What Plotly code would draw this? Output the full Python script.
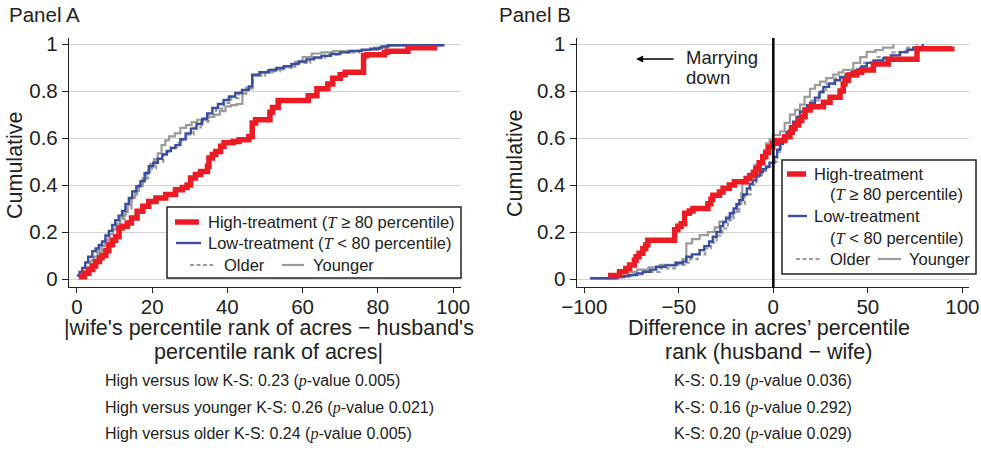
import plotly.graph_objects as go

# ---------------- data: empirical CDFs (step breakpoints) ----------------
# Panel A: |wife's rank - husband's rank|
hi_a_x = [0.5, 2.0, 3.2, 4.2, 5.0, 6.0, 6.7, 7.7, 8.5, 9.5,
          10.3, 11.2, 12.0, 13.4, 14.5, 16.0, 17.5, 19.1, 21.0, 23.6,
          26.2, 28.0, 29.3, 30.2, 31.5, 32.9, 34.7, 35.1, 36.0, 36.9,
          38.2, 39.1, 41.5, 43.1, 45.7, 46.6, 47.5, 51.3, 52.0, 53.5,
          61.5, 63.8, 66.7, 68.0, 70.0, 71.3, 76.2, 77.0, 81.7, 82.5,
          88.0, 95.8]
hi_a_y = [0.010, 0.025, 0.040, 0.055, 0.075, 0.090, 0.100, 0.120, 0.146, 0.165,
          0.180, 0.217, 0.225, 0.238, 0.260, 0.288, 0.310, 0.330, 0.345, 0.360,
          0.380, 0.390, 0.400, 0.430, 0.445, 0.458, 0.480, 0.515, 0.530, 0.543,
          0.565, 0.580, 0.585, 0.593, 0.607, 0.664, 0.678, 0.710, 0.730, 0.760,
          0.780, 0.810, 0.830, 0.855, 0.870, 0.880, 0.950, 0.955, 0.965, 0.970,
          0.985, 0.985]

lo_a_x = [0.0, 0.7, 1.4, 2.2, 3.0, 4.1, 5.0, 5.8, 6.7, 7.6,
          8.5, 9.4, 10.2, 11.1, 12.0, 12.9, 13.8, 14.7, 15.8, 16.9,
          18.0, 19.1, 20.3, 21.5, 22.7, 23.9, 25.0, 26.2, 27.5, 28.9,
          30.3, 31.8, 33.3, 34.6, 36.0, 37.5, 39.0, 40.4, 42.1, 43.9,
          45.7, 46.6, 48.5, 51.0, 53.0, 55.0, 57.0, 58.9, 61.0, 63.0,
          65.0, 67.5, 70.0, 72.5, 75.7, 78.0, 80.5, 81.0, 82.8, 97.4]
lo_a_y = [0.015, 0.030, 0.047, 0.070, 0.095, 0.118, 0.130, 0.145, 0.160, 0.185,
          0.205, 0.230, 0.250, 0.270, 0.290, 0.320, 0.345, 0.373, 0.395, 0.416,
          0.450, 0.480, 0.495, 0.512, 0.530, 0.545, 0.558, 0.570, 0.595, 0.620,
          0.640, 0.660, 0.680, 0.705, 0.728, 0.745, 0.762, 0.777, 0.792, 0.805,
          0.820, 0.870, 0.880, 0.890, 0.898, 0.906, 0.915, 0.926, 0.935, 0.943,
          0.950, 0.958, 0.965, 0.970, 0.976, 0.980, 0.985, 0.990, 0.995, 1.000]

yo_a_x = [0.5, 1.5, 2.5, 3.5, 4.5, 5.5, 6.5, 7.5, 8.5, 9.5,
          10.5, 11.5, 12.5, 13.5, 14.5, 15.5, 16.5, 17.5, 18.5, 19.5,
          20.5, 21.5, 22.5, 23.5, 24.5, 26.0, 27.5, 29.0, 30.5, 32.0,
          33.5, 35.0, 36.5, 38.0, 39.5, 41.0, 42.5, 44.0, 45.0, 46.6,
          49.0, 52.0, 55.0, 58.0, 60.0, 62.4, 65.0, 68.0, 72.0, 76.0,
          80.0, 82.3, 97.0]
yo_a_y = [0.010, 0.030, 0.050, 0.075, 0.095, 0.120, 0.140, 0.165, 0.190, 0.210,
          0.235, 0.260, 0.285, 0.315, 0.345, 0.375, 0.400, 0.425, 0.455, 0.490,
          0.510, 0.535, 0.570, 0.590, 0.607, 0.620, 0.643, 0.655, 0.668, 0.678,
          0.685, 0.690, 0.700, 0.715, 0.735, 0.740, 0.745, 0.790, 0.810, 0.865,
          0.880, 0.892, 0.905, 0.925, 0.945, 0.960, 0.965, 0.970, 0.972, 0.975,
          0.985, 0.995, 1.000]

ol_a_x = [1.0, 2.5, 4.0, 5.5, 7.0, 8.5, 10.0, 11.5, 13.0, 14.5,
          16.0, 17.5, 19.0, 21.0, 23.0, 25.0, 27.0, 29.0, 31.0, 33.0,
          35.0, 37.0, 39.0, 41.0, 43.0, 45.0, 46.8, 50.0, 54.0, 58.0,
          62.0, 66.0, 70.0, 75.0, 79.0, 82.5, 96.5]
ol_a_y = [0.015, 0.045, 0.080, 0.110, 0.140, 0.180, 0.215, 0.255, 0.300, 0.350,
          0.395, 0.430, 0.470, 0.500, 0.540, 0.560, 0.590, 0.615, 0.645, 0.670,
          0.700, 0.725, 0.750, 0.770, 0.790, 0.815, 0.865, 0.885, 0.900, 0.920,
          0.940, 0.955, 0.965, 0.975, 0.985, 0.995, 1.000]

# Panel B: husband's rank - wife's rank
hi_b_x = [-87.5, -81.3, -78.0, -76.0, -73.5, -72.6, -71.0, -69.0, -67.5, -66.4,
          -52.2, -50.5, -48.8, -46.9, -44.5, -42.5, -34.6, -33.0, -32.0, -28.5,
          -26.6, -23.3, -20.6, -14.4, -12.5, -10.5, -9.2, -7.5, -5.6, -4.0,
          -2.5, -0.3, 1.8, 6.0, 8.8, 10.0, 11.5, 13.5, 15.0, 16.8,
          19.4, 26.5, 30.0, 35.3, 37.0, 37.9, 39.7, 44.1, 46.7, 52.9,
          60.8, 76.0, 94.4]
hi_b_y = [0.015, 0.031, 0.045, 0.060, 0.080, 0.095, 0.110, 0.130, 0.145, 0.165,
          0.210, 0.225, 0.235, 0.280, 0.290, 0.300, 0.320, 0.340, 0.357, 0.370,
          0.386, 0.400, 0.414, 0.428, 0.440, 0.455, 0.470, 0.495, 0.520, 0.540,
          0.562, 0.578, 0.590, 0.606, 0.625, 0.640, 0.656, 0.675, 0.691, 0.720,
          0.733, 0.753, 0.774, 0.800, 0.830, 0.845, 0.868, 0.880, 0.890, 0.915,
          0.936, 0.980, 0.990]

lo_b_x = [-97.0, -83.0, -79.0, -76.4, -72.0, -69.0, -65.0, -62.0, -57.0, -51.5,
          -47.9, -46.0, -43.0, -39.0, -36.5, -34.0, -32.0, -30.0, -28.0, -26.5,
          -25.0, -23.0, -21.0, -19.5, -18.0, -16.0, -14.0, -12.5, -10.9, -9.0,
          -7.0, -5.5, -3.9, -2.0, 0.5, 2.0, 3.5, 5.0, 7.0, 8.8,
          10.5, 12.3, 14.1, 16.0, 17.8, 19.4, 22.0, 24.5, 26.5, 29.5,
          32.5, 35.3, 38.5, 41.5, 44.1, 46.5, 49.4, 53.0, 58.2, 62.5,
          67.0, 71.0, 74.0, 79.0]
lo_b_y = [0.003, 0.008, 0.012, 0.017, 0.024, 0.031, 0.040, 0.052, 0.058, 0.067,
          0.074, 0.095, 0.105, 0.123, 0.140, 0.160, 0.180, 0.200, 0.225, 0.242,
          0.258, 0.280, 0.300, 0.318, 0.336, 0.360, 0.385, 0.405, 0.420, 0.440,
          0.455, 0.468, 0.478, 0.495, 0.520, 0.550, 0.575, 0.600, 0.625, 0.650,
          0.670, 0.690, 0.712, 0.725, 0.740, 0.750, 0.772, 0.795, 0.818, 0.832,
          0.846, 0.860, 0.872, 0.882, 0.890, 0.905, 0.920, 0.930, 0.940, 0.952,
          0.966, 0.976, 0.985, 1.000]

yo_b_x = [-95.0, -85.0, -81.3, -72.0, -66.0, -60.0, -52.0, -48.0, -46.0, -43.0,
          -39.0, -34.6, -31.0, -28.5, -25.0, -21.5, -19.0, -17.0, -16.4, -14.5,
          -12.5, -10.0, -7.4, -5.5, -3.9, -2.0, -0.3, 3.5, 6.0, 8.8,
          11.5, 14.1, 16.5, 19.4, 22.0, 24.7, 28.0, 31.7, 34.5, 37.0,
          42.3, 46.0, 49.4, 54.0, 58.0, 63.5]
yo_b_y = [0.003, 0.010, 0.030, 0.040, 0.050, 0.060, 0.072, 0.085, 0.152, 0.170,
          0.187, 0.200, 0.220, 0.244, 0.265, 0.286, 0.320, 0.365, 0.407, 0.430,
          0.450, 0.486, 0.490, 0.530, 0.577, 0.595, 0.613, 0.628, 0.665, 0.700,
          0.720, 0.742, 0.775, 0.810, 0.825, 0.840, 0.855, 0.870, 0.880, 0.890,
          0.920, 0.945, 0.967, 0.975, 0.985, 1.000]

ol_b_x = [-93.0, -82.0, -75.0, -68.0, -60.0, -52.0, -47.0, -44.0, -40.0, -36.0,
          -33.0, -30.0, -27.0, -24.0, -21.0, -18.0, -15.0, -12.0, -9.0, -6.0,
          -3.0, 0.0, 2.0, 4.0, 7.0, 10.0, 13.0, 16.0, 20.0, 24.0,
          28.0, 33.0, 38.0, 43.0, 48.0, 55.0, 62.0, 70.0, 76.0]
ol_b_y = [0.003, 0.012, 0.020, 0.030, 0.045, 0.060, 0.070, 0.085, 0.105, 0.130,
          0.155, 0.185, 0.215, 0.250, 0.285, 0.320, 0.360, 0.400, 0.435, 0.460,
          0.480, 0.500, 0.540, 0.580, 0.620, 0.660, 0.695, 0.725, 0.760, 0.800,
          0.830, 0.855, 0.875, 0.895, 0.920, 0.945, 0.965, 0.985, 1.000]

# tick labels
a_ticks = [0, 20, 40, 60, 80, 100]
b_ticks = [-100, -50, 0, 50, 100]
b_ticktext = ["\u2212100", "\u221250", "0", "50", "100"]
y_ticks = [0, 0.2, 0.4, 0.6, 0.8, 1]
y_ticktext = ["0", "0.2", "0.4", "0.6", "0.8", "1"]

ks_a = ["High versus low K-S: 0.23 ({p}-value 0.005)",
        "High versus younger K-S: 0.26 ({p}-value 0.021)",
        "High versus older K-S: 0.24 ({p}-value 0.005)"]
ks_b = ["K-S: 0.19 ({p}-value 0.036)",
        "K-S: 0.16 ({p}-value 0.292)",
        "K-S: 0.20 ({p}-value 0.029)"]

# ---------------- style ----------------
W, H = 981, 452
RED = "#ec1c24"
BLUE = "#3a4ea0"
GRAY = "#9b9b9b"
INK = "#222222"
FONT = "Liberation Sans, Arial, Helvetica, sans-serif"
DASH = "4px,2.5px"


def px(x):
    return x / W


def py(y):
    return 1 - y / H


def mi(s):
    return "<span style='font-family:Liberation Serif;font-style:italic'>%s</span>" % s


fig = go.Figure()


def add_panel(series, xa, ya):
    (ox, oy), (yx, yy), (lx, ly), (hx, hy) = series
    fig.add_trace(go.Scatter(x=ox, y=oy, mode="lines", line=dict(color=GRAY, width=2.2, dash=DASH, shape="hv"),
                             xaxis=xa, yaxis=ya, showlegend=False, hoverinfo="skip"))
    fig.add_trace(go.Scatter(x=yx, y=yy, mode="lines", line=dict(color=GRAY, width=2.2, shape="hv"),
                             xaxis=xa, yaxis=ya, showlegend=False, hoverinfo="skip"))
    fig.add_trace(go.Scatter(x=lx, y=ly, mode="lines", line=dict(color=BLUE, width=2.4, shape="hv"),
                             xaxis=xa, yaxis=ya, showlegend=False, hoverinfo="skip"))
    fig.add_trace(go.Scatter(x=hx, y=hy, mode="lines", line=dict(color=RED, width=5.5, shape="hv"),
                             xaxis=xa, yaxis=ya, showlegend=False, hoverinfo="skip"))


add_panel([(ol_a_x, ol_a_y), (yo_a_x, yo_a_y), (lo_a_x, lo_a_y), (hi_a_x, hi_a_y)], "x", "y")
add_panel([(ol_b_x, ol_b_y), (yo_b_x, yo_b_y), (lo_b_x, lo_b_y), (hi_b_x, hi_b_y)], "x2", "y2")

y_dom = [py(287), py(38)]
axis_common = dict(showline=True, linecolor=INK, linewidth=1.3, ticks="outside", ticklen=6,
                   tickwidth=1.3, tickcolor=INK, mirror=False, zeroline=False, automargin=False,
                   tickfont=dict(family=FONT, size=20.5, color=INK))
xaxis_common = dict(axis_common, ticklen=5, ticklabelstandoff=-4, showgrid=False)
yaxis_common = dict(axis_common, range=[-0.034, 1.026], tickvals=y_ticks, ticktext=y_ticktext,
                    showgrid=True, gridcolor="#d2d2d2", gridwidth=1.1)

fig.update_layout(
    width=W, height=H, autosize=False,
    margin=dict(l=0, r=0, t=0, b=0, pad=0, autoexpand=False),
    paper_bgcolor="white", plot_bgcolor="white",
    font=dict(family=FONT, color=INK),
    showlegend=False,
    xaxis=dict(xaxis_common, domain=[px(69), px(461)], range=[-2.1, 102.1],
               tickvals=a_ticks, anchor="y"),
    yaxis=dict(yaxis_common, domain=y_dom, anchor="x"),
    xaxis2=dict(xaxis_common, domain=[px(576.7), px(969)], range=[-104, 103.5],
                tickvals=b_ticks, ticktext=b_ticktext, anchor="y2"),
    yaxis2=dict(yaxis_common, domain=y_dom, anchor="x2"),
)

# zero reference line in panel B
fig.add_shape(type="line", xref="x2", yref="paper", x0=0, x1=0, y0=y_dom[0], y1=y_dom[1],
              line=dict(color="black", width=2.5))

ann = []


def text(x, y, s, size, xanchor="left", angle=0):
    ann.append(dict(x=px(x), y=py(y), xref="paper", yref="paper", text=s, showarrow=False,
                    xanchor=xanchor, yanchor="middle", textangle=angle,
                    font=dict(family=FONT, size=size, color=INK)))


# panel headings and axis titles
text(7, 15, "Panel A", 20.5)
text(497, 15, "Panel B", 20.5)
text(15, 165, "Cumulative", 21.5, "center", -90)
text(515, 163, "Cumulative", 21.5, "center", -90)
text(269, 328, "|wife's percentile rank of acres \u2212 husband's", 21.5, "center")
text(268, 352, "percentile rank of acres|", 21.5, "center")
text(769, 328, "Difference in acres\u2019 percentile", 21.5, "center")
text(768, 352, "rank (husband \u2212 wife)", 21.5, "center")

# test statistics
for i, s in enumerate(ks_a):
    text(103, 381 + i * 26.5, s.format(p=mi("p")), 16)
for i, s in enumerate(ks_b):
    text(672, 381 + i * 26.5, s.format(p=mi("p")), 16)

# "Marrying down" note with arrow
text(684, 57, "Marrying", 18.5)
text(684, 78, "down", 18.5)
ann.append(dict(x=px(636), y=py(59), xref="paper", yref="paper", ax=39, ay=0, text="",
                showarrow=True, arrowhead=2, arrowsize=1.1, arrowwidth=1.3, arrowcolor="black"))


# ---- legends ----
def legend_line(x0, x1, y, color, width, dash=None):
    fig.add_shape(type="line", xref="paper", yref="paper", x0=px(x0), x1=px(x1), y0=py(y), y1=py(y),
                  line=dict(color=color, width=width, dash=dash))


def box(x0, y0, x1, y1):
    fig.add_shape(type="rect", xref="paper", yref="paper", x0=px(x0), x1=px(x1), y0=py(y1), y1=py(y0),
                  line=dict(color=INK, width=1.5), fillcolor="white", layer="above")


box(167, 207, 461, 278)
legend_line(175, 199, 222, RED, 5.5)
legend_line(176, 201, 243, BLUE, 2.4)
legend_line(190, 213, 265, GRAY, 2.2, DASH)
legend_line(282, 304, 265, GRAY, 2.2)
text(206, 222, "High-treatment (%s \u2265 80 percentile)" % mi("T"), 16.5)
text(206, 243, "Low-treatment (%s < 80 percentile)" % mi("T"), 16.5)
text(222, 265, "Older", 16.5)
text(311, 265, "Younger", 16.5)

box(782, 160, 976, 274)
legend_line(787, 806, 174, RED, 5.5)
legend_line(788, 807, 216, BLUE, 2.4)
legend_line(796, 820, 259, GRAY, 2.2, DASH)
legend_line(878, 901, 259, GRAY, 2.2)
text(812, 174, "High-treatment", 16.5)
text(828, 195, "(%s \u2265 80 percentile)" % mi("T"), 16.5)
text(812, 216, "Low-treatment", 16.5)
text(828, 238, "(%s < 80 percentile)" % mi("T"), 16.5)
text(828, 259, "Older", 16.5)
text(907, 259, "Younger", 16.5)

fig.update_layout(annotations=ann)
fig.write_html("out.html")
